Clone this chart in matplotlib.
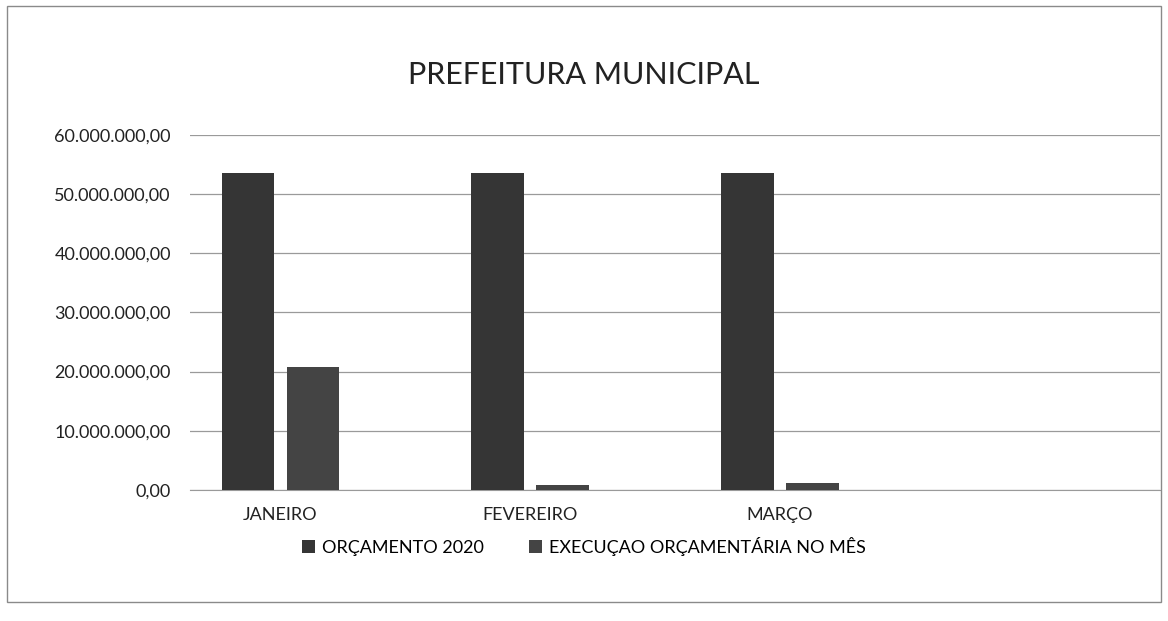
import matplotlib
matplotlib.use("Agg")
import matplotlib.pyplot as plt
from matplotlib.patches import Rectangle
from matplotlib.ticker import FuncFormatter, MultipleLocator
import numpy as np

plt.rcParams['font.family'] = ['Lato', 'DejaVu Sans']

meses = ["JANEIRO", "FEVEREIRO", "MARÇO"]
orcamento_2020 = [53600000, 53600000, 53600000]
execucao_mes = [20800000, 800000, 1200000]
series_nomes = ["ORÇAMENTO 2020", "EXECUÇAO ORÇAMENTÁRIA NO MÊS"]


def formato_br(v, pos):
    # 60000000 -> 60.000.000,00
    s = "{:,.2f}".format(v)
    return s.replace(",", "X").replace(".", ",").replace("X", ".")


fig = plt.figure(figsize=(11.68, 6.21), dpi=100)
ax = fig.add_axes([0.163, 0.211, 0.83, 0.572])

x = np.arange(len(meses))
w = 0.21
gap = 0.05
ax.bar(x - (w + gap) / 2, orcamento_2020, width=w, color="#353535",
       label=series_nomes[0], zorder=3)
ax.bar(x + (w + gap) / 2, execucao_mes, width=w, color="#444444",
       label=series_nomes[1], zorder=3)

ax.set_ylim(0, 60000000)
ax.set_xlim(-0.36, 3.52)
ax.yaxis.set_major_locator(MultipleLocator(10000000))
ax.yaxis.set_major_formatter(FuncFormatter(formato_br))
ax.grid(axis="y", color="#9a9a9a", linewidth=0.9, zorder=0)
ax.set_xticks(x)
ax.set_xticklabels(meses)
ax.tick_params(axis="both", length=0, labelsize=13, colors="#222222")
ax.tick_params(axis="x", pad=12)
ax.tick_params(axis="y", pad=14)
for s in ["top", "right", "left"]:
    ax.spines[s].set_visible(False)
ax.spines["bottom"].set_color("#9a9a9a")

fig.text(0.5, 0.879, "PREFEITURA MUNICIPAL", ha="center", va="center",
         fontsize=22, color="#222222")

fig.legend(loc="center", bbox_to_anchor=(0.5, 0.12), ncol=2, frameon=False,
           fontsize=13, handlelength=0.7, handleheight=0.7,
           columnspacing=2.5, handletextpad=0.4)

fig.patches.append(Rectangle((0.006, 0.03), 0.988, 0.96, transform=fig.transFigure,
                             fill=False, edgecolor="#8a8a8a", linewidth=1))

fig.savefig("out.png", dpi=100)
